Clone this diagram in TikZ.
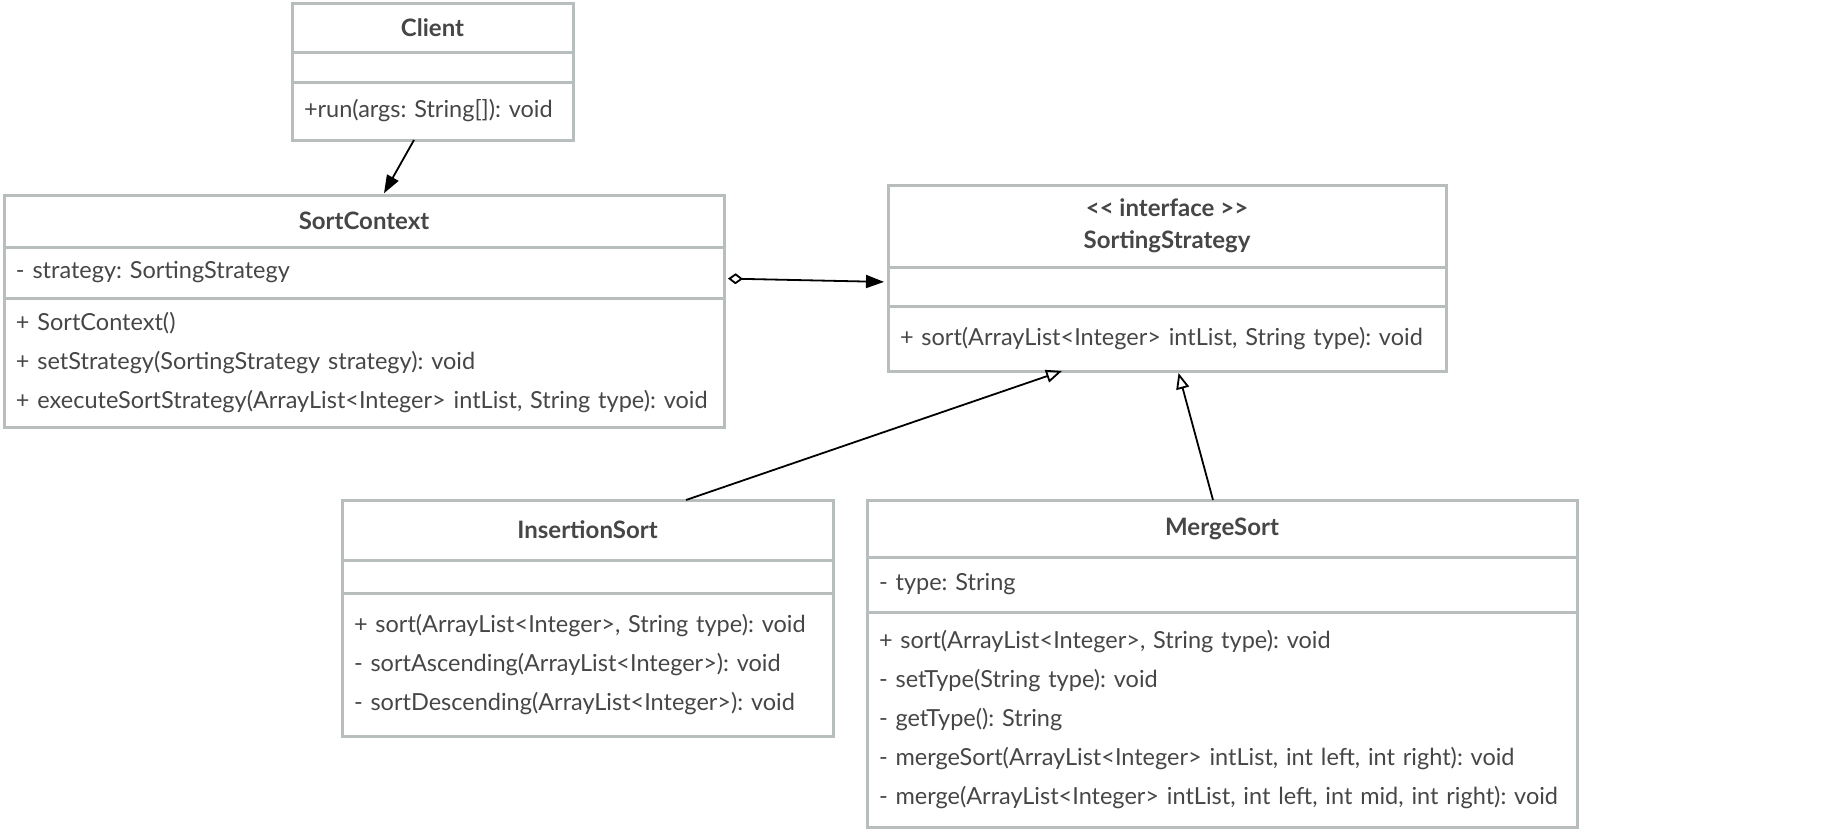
\documentclass[tikz,border=0pt]{standalone}
\usepackage{fontspec}
\setmainfont{Lato}
\usetikzlibrary{positioning,arrows.meta}
\definecolor{umlline}{RGB}{184,189,189}
\definecolor{umltext}{RGB}{70,70,70}
\frenchspacing
\begin{document}
\begin{tikzpicture}[x=1pt,y=-1pt,
    box/.style={draw=umlline,line width=3pt,outer sep=0pt,inner ysep=0pt,
      text=umltext,font=\fontsize{23.5}{39}\selectfont},
    title/.style={box,inner xsep=0pt,align=center,font=\fontsize{24}{32}\selectfont\bfseries},
    members/.style={box,inner xsep=12pt,align=left},
    link/.style={line width=1.8pt,black},
    assoc/.style={link,-{Triangle[length=18pt,width=13pt]}},
    aggr/.style={link,{Diamond[open,length=15pt,width=11pt]}-{Triangle[length=18pt,width=13pt]}},
    realize/.style={link,-{Triangle[open,length=16pt,width=13pt]}}]
  \useasboundingbox (0,0) rectangle (1840,830);

  % Client
  \node[title,anchor=north west,minimum width=281pt,minimum height=49pt] (client) at (292,3) {Client};
  \node[members,below=0pt of client,text width=257pt,minimum height=30pt] (client attr) {};
  \node[members,below=0pt of client attr,text width=257pt,minimum height=58pt] (client ops) {+run(args: String[]): void};

  % SortContext
  \node[title,anchor=north west,minimum width=720pt,minimum height=52pt] (ctx) at (4,195) {SortContext};
  \node[members,below=0pt of ctx,text width=696pt,minimum height=51pt] (ctx attr) {- strategy: SortingStrategy};
  \node[members,below=0pt of ctx attr,text width=696pt,minimum height=129pt] (ctx ops)
    {+ SortContext()\\+ setStrategy(SortingStrategy strategy): void\\+ executeSortStrategy(ArrayList<Integer> intList, String type): void};

  % SortingStrategy
  \node[title,anchor=north west,minimum width=558pt,minimum height=82pt] (strat) at (888,185)
    {<\kern0pt< interface >\kern0pt>\\SortingStrategy};
  \node[members,below=0pt of strat,text width=534pt,minimum height=39pt] (strat attr) {};
  \node[members,below=0pt of strat attr,text width=534pt,minimum height=65pt] (strat ops)
    {+ sort(ArrayList<Integer> intList, String type): void};

  % InsertionSort
  \node[title,anchor=north west,minimum width=491pt,minimum height=60pt] (ins) at (342,500) {InsertionSort};
  \node[members,below=0pt of ins,text width=467pt,minimum height=33pt] (ins attr) {};
  \node[members,below=0pt of ins attr,text width=467pt,minimum height=143pt] (ins ops)
    {+ sort(ArrayList<Integer>, String type): void\\- sortAscending(ArrayList<Integer>): void\\- sortDescending(ArrayList<Integer>): void};

  % MergeSort
  \node[title,anchor=north west,minimum width=710pt,minimum height=57pt] (merge) at (867,500) {MergeSort};
  \node[members,below=0pt of merge,text width=686pt,minimum height=55pt] (merge attr) {- type: String};
  \node[members,below=0pt of merge attr,text width=686pt,minimum height=215pt] (merge ops)
    {+ sort(ArrayList<Integer>, String type): void\\- setType(String type): void\\- getType(): String\\- mergeSort(ArrayList<Integer> intList, int left, int right): void\\- merge(ArrayList<Integer> intList, int left, int mid, int right): void};

  \draw[assoc,shorten >=2pt] ([xshift=-18.5pt]client ops.south) -- ([xshift=19pt]ctx.north);
  \draw[aggr,shorten <=4pt,shorten >=4pt] ([yshift=-6pt]ctx attr.east) -- ([yshift=4.5pt]strat attr.west);
  \draw[realize] ([xshift=98.5pt]ins.north) -- ([xshift=-105pt]strat ops.south);
  \draw[realize,shorten >=2pt] ([xshift=-9pt]merge.north) -- ([xshift=11pt]strat ops.south);
\end{tikzpicture}
\end{document}
